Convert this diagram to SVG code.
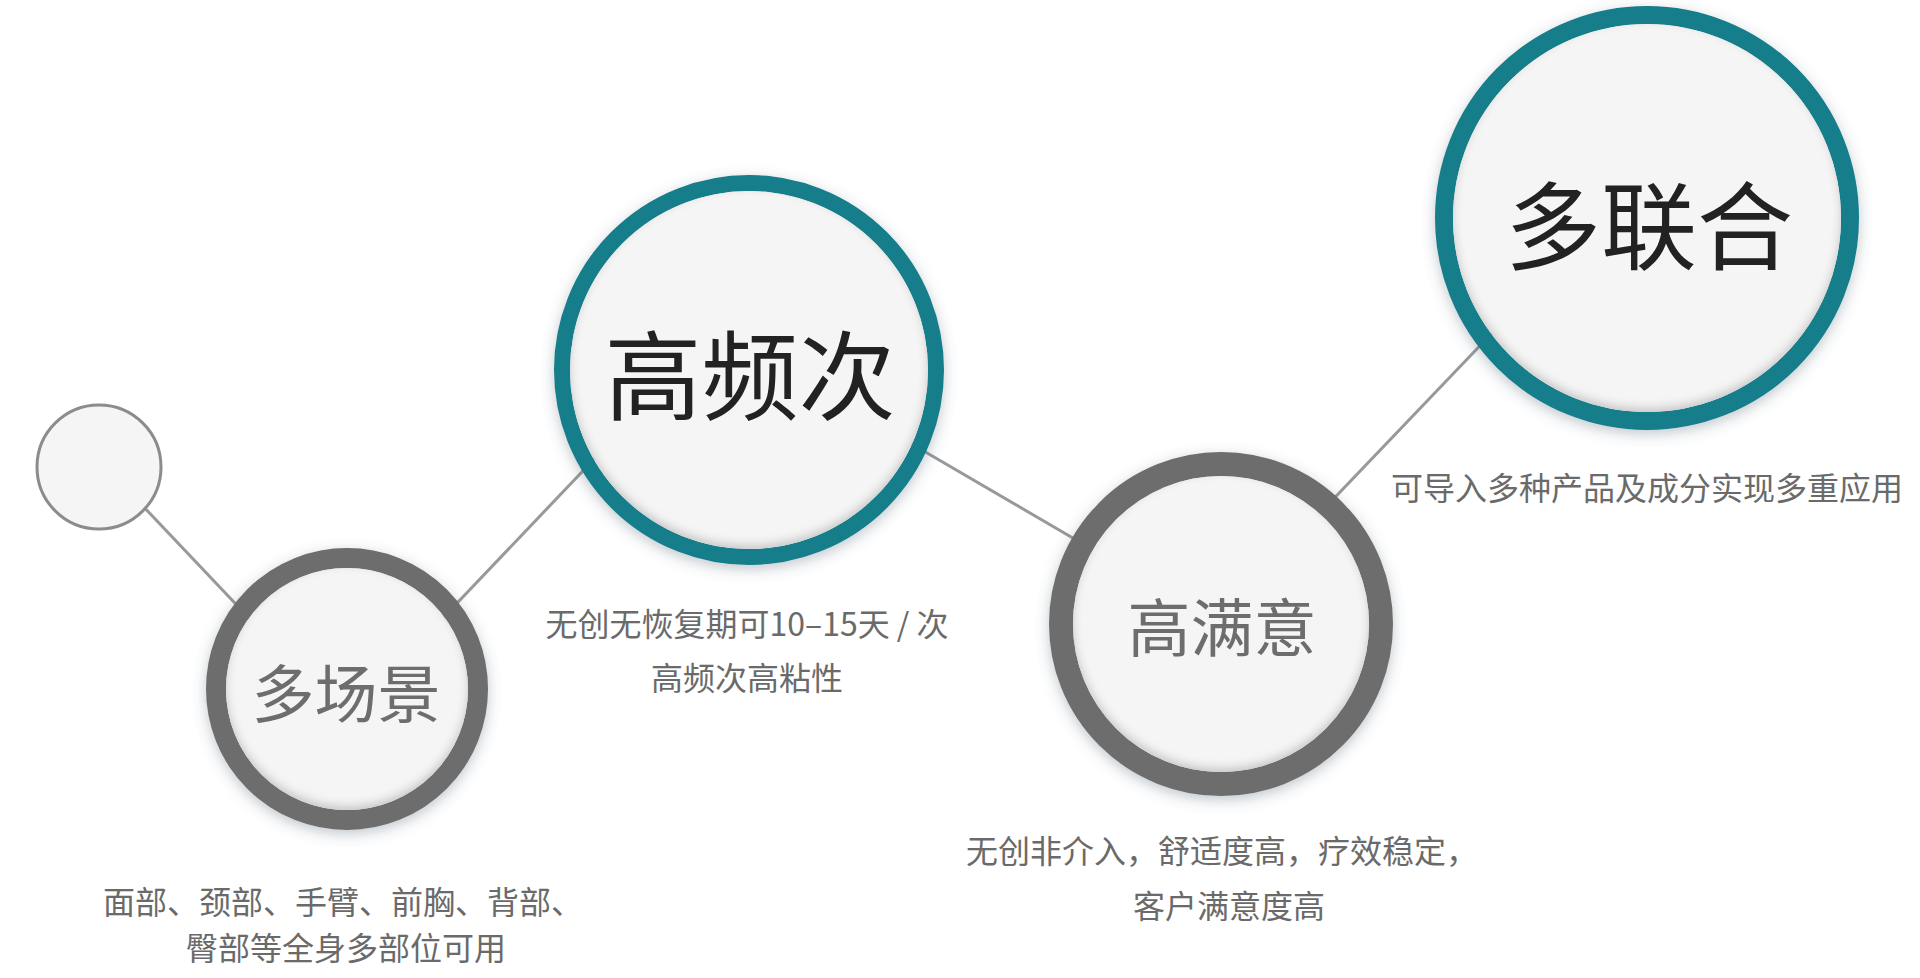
<svg xmlns="http://www.w3.org/2000/svg" width="1920" height="978" viewBox="0 0 1920 978">
<style>
.conn{stroke:#999999;stroke-width:3;fill:none}
.face{fill:#f5f5f5}
.ringTeal{fill:none;stroke:#127d8b}
.ringGray{fill:none;stroke:#6d6d6d}
.t{font-family:"Noto Sans CJK SC","Noto Sans",sans-serif;text-anchor:middle;dominant-baseline:central}
.dark{fill:#222222}
.mid{fill:#6d6d6d}
.desc{fill:#6a6a6a;font-size:32px}
</style>
<defs>
<filter id="outer" x="-20%" y="-20%" width="140%" height="140%">
<feDropShadow dx="0" dy="4" stdDeviation="7" flood-color="#4a5d6e" flood-opacity="0.35"/>
</filter>
<filter id="inset" x="-10%" y="-10%" width="120%" height="120%">
<feComponentTransfer in="SourceAlpha" result="inv"><feFuncA type="table" tableValues="1 0"/></feComponentTransfer>
<feGaussianBlur in="inv" stdDeviation="5" result="b"/>
<feOffset in="b" dx="0" dy="-4" result="o"/>
<feFlood flood-color="#000000" flood-opacity="0.38"/>
<feComposite operator="in" in2="o" result="s"/>
<feComposite operator="in" in="s" in2="SourceAlpha" result="s2"/>
<feMerge><feMergeNode in="SourceGraphic"/><feMergeNode in="s2"/></feMerge>
</filter>
</defs>
<rect width="1920" height="978" fill="#ffffff"/>
<g id="connectors">
<line class="conn" x1="140" y1="503" x2="250" y2="619"/>
<line class="conn" x1="440" y1="621" x2="600" y2="453"/>
<line class="conn" x1="910" y1="443" x2="1090" y2="548"/>
<line class="conn" x1="1320" y1="513" x2="1495" y2="330"/>
</g>
<g id="node-start">
<circle cx="99" cy="467" r="62" fill="#f5f5f5" stroke="#8c8c8c" stroke-width="3"/>
</g>
<g id="node-duochangjing">
<circle class="ringGray" cx="347" cy="689" r="131" stroke-width="20" filter="url(#outer)"/>
<circle class="face" cx="347" cy="689" r="121" filter="url(#inset)"/>
<text class="t mid" x="346" y="689" font-size="63">多场景</text>
<text class="t desc" x="343" y="900">面部、颈部、手臂、前胸、背部、</text>
<text class="t desc" x="346" y="946">臀部等全身多部位可用</text>
</g>
<g id="node-gaopinci">
<circle class="ringTeal" cx="749" cy="370" r="187" stroke-width="16" filter="url(#outer)"/>
<circle class="face" cx="749" cy="370" r="179" filter="url(#inset)"/>
<text class="t dark" x="750" y="369" font-size="97">高频次</text>
<text class="t desc" x="747" y="622" font-size="34">无创无恢复期可10–15天 / 次</text>
<text class="t desc" x="747" y="676" font-size="34">高频次高粘性</text>
</g>
<g id="node-gaomanyi">
<circle class="ringGray" cx="1221" cy="624" r="160" stroke-width="24" filter="url(#outer)"/>
<circle class="face" cx="1221" cy="624" r="148" filter="url(#inset)"/>
<text class="t mid" x="1222" y="623" font-size="63">高满意</text>
<text class="t desc" x="1222" y="849">无创非介入，舒适度高，疗效稳定，</text>
<text class="t desc" x="1229" y="904">客户满意度高</text>
</g>
<g id="node-duolianhe">
<circle class="ringTeal" cx="1647" cy="218" r="203" stroke-width="18" filter="url(#outer)"/>
<circle class="face" cx="1647" cy="218" r="194" filter="url(#inset)"/>
<text class="t dark" x="1649" y="220" font-size="96">多联合</text>
<text class="t desc" x="1647" y="486" font-size="32.5">可导入多种产品及成分实现多重应用</text>
</g>
</svg>
